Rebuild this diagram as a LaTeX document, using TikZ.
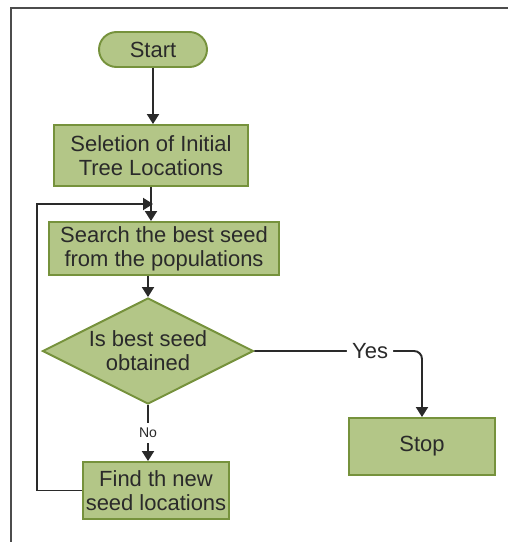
\documentclass[tikz,border=0pt]{standalone}
\usepackage{fontspec}
\setmainfont{Liberation Sans}
\usetikzlibrary{shapes.geometric,arrows.meta}
\definecolor{boxfill}{HTML}{B3C687}
\definecolor{boxline}{HTML}{76923C}
\definecolor{inkgray}{HTML}{2A2A2A}
\begin{document}
\begin{tikzpicture}[x=0.02cm,y=-0.02cm,
  every node/.style={text=inkgray,font=\fontsize{12.5}{13.7}\selectfont,align=center,inner sep=0pt},
  box/.style={draw=boxline,fill=boxfill,line width=1.1pt},
  arr/.style={draw=inkgray,line width=1.1pt,-{Triangle[length=0.2cm,width=0.24cm]}},
  lbl/.style={fill=white,inner sep=3pt}]
\useasboundingbox (0,0) rectangle (508,542);
% frame
\draw[gray!60!black,line width=1pt] (11,542) -- (11,8) -- (508,8);
% nodes
\node[box,rounded corners=0.35cm,minimum width=2.16cm,minimum height=0.7cm] (start) at (153,49.5) {Start};
\node[box,minimum width=3.88cm,minimum height=1.22cm] (select) at (151,155.5) {Seletion of Initial\\Tree Locations};
\node[box,minimum width=4.6cm,minimum height=1.06cm] (search) at (164,248.5) {Search the best seed\\from the populations};
\node[box,diamond,shape aspect=2,minimum width=4.22cm,minimum height=2.12cm] (check) at (148,351) {Is best seed\\obtained};
\node[box,minimum width=2.92cm,minimum height=1.14cm] (findnew) at (156,490.5) {Find th new\\seed locations};
\node[box,minimum width=2.92cm,minimum height=1.14cm] (stop) at (422,446.5) {Stop};
\coordinate (join) at (153,204);
% connectors
\draw[arr] (start.south) -- (start.south |- select.north);
\draw[arr] (select.south) -- (select.south |- search.north);
\draw[arr] (check.north |- search.south) -- (check.north);
\draw[arr] (check.south) -- node[lbl,font=\fontsize{8}{9}\selectfont]{No} (check.south |- findnew.north);
\draw[arr,rounded corners=0.16cm] (check.east) -- node[lbl,pos=0.69]{Yes} (stop.north |- check.east) -- (stop.north);
\draw[arr] (findnew.west) -- ++(-45,0) |- (join);
\end{tikzpicture}
\end{document}
